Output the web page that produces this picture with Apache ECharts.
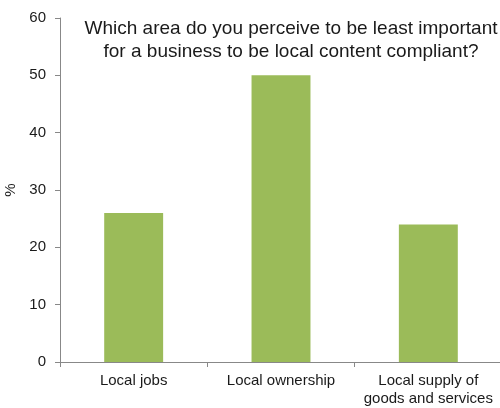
<!DOCTYPE html>
<html>
<head>
<meta charset="utf-8">
<script src="https://cdn.jsdelivr.net/npm/echarts@6/dist/echarts.min.js"></script>
<style>
  html, body { margin: 0; padding: 0; background: #fff; }
  #chart { width: 500px; height: 408px; }
</style>
</head>
<body>
<div id="chart"></div>
<script>
// categories and values
var categories = ['Local jobs', 'Local ownership', 'Local supply of\ngoods and services']
var values = [26, 50, 24]
var titleText = 'Which area do you perceive to be least important\nfor a business to be local content compliant?'

var font = 'Liberation Sans, Arial, sans-serif'
var axisGrey = '#888888'

var chart = echarts.init(document.getElementById('chart'))
chart.setOption({
  animation: false,
  title: {
    text: titleText,
    left: 286,
    top: 12,
    textAlign: 'center',
    textStyle: {
      fontFamily: font,
      fontSize: 19,
      fontWeight: 'normal',
      color: '#1a1a1a',
      lineHeight: 23
    }
  },
  grid: { left: 60, right: -2, top: 18, bottom: 46, outerBoundsMode: 'none' },
  xAxis: {
    type: 'category',
    data: categories,
    axisLine: { lineStyle: { color: axisGrey } },
    axisTick: { show: true, length: 5, alignWithLabel: false, lineStyle: { color: axisGrey } },
    axisLabel: {
      interval: 0,
      margin: 10,
      fontFamily: font,
      fontSize: 15,
      color: '#1a1a1a',
      lineHeight: 18
    }
  },
  yAxis: {
    type: 'value',
    min: 0,
    max: 60,
    interval: 10,
    name: '%',
    nameLocation: 'middle',
    nameGap: 38,
    nameRotate: 90,
    nameTextStyle: { fontFamily: font, fontSize: 15, color: '#1a1a1a' },
    splitLine: { show: false },
    axisLine: { show: true, lineStyle: { color: axisGrey } },
    axisTick: { show: true, length: 5, lineStyle: { color: axisGrey } },
    axisLabel: {
      margin: 14,
      fontFamily: font,
      fontSize: 15,
      color: '#1a1a1a'
    }
  },
  series: [{
    type: 'bar',
    data: values,
    barWidth: '40%',
    itemStyle: { color: '#9BBB59' }
  }]
})
</script>
</body>
</html>
